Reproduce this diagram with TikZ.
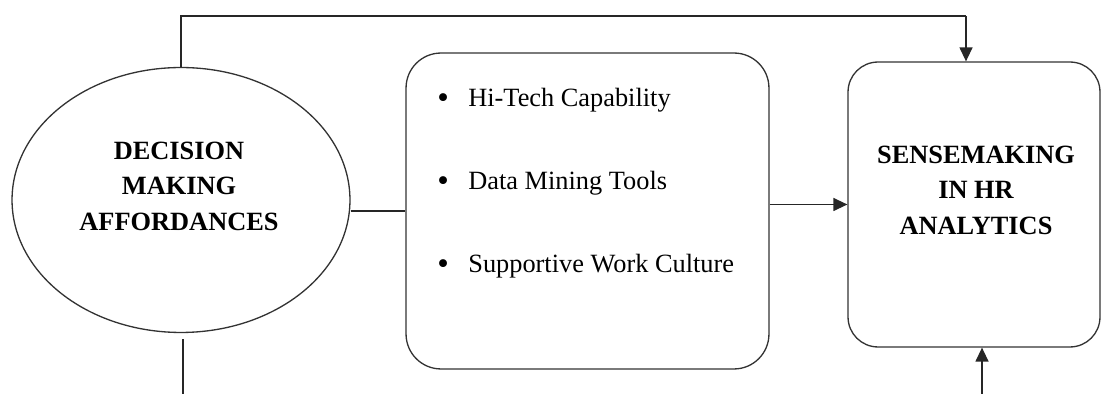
\documentclass[tikz,border=0pt]{standalone}
\usepackage{fontspec}
\setmainfont{Liberation Serif}
\usetikzlibrary{arrows.meta,shapes.geometric}

\tikzset{
  link/.style={line width=0.75pt, draw=black!85},
  arrowlink/.style={link, -{Triangle[length=0.28cm,width=0.26cm]}},
  shapeline/.style={line width=0.75pt, draw=black!80},
  headtext/.style={align=center, font=\fontsize{15}{20.2}\selectfont\bfseries, inner sep=0pt},
  itemtext/.style={anchor=base west, font=\fontsize{15}{18}\selectfont, inner sep=0pt},
}

\newcommand{\bulletitem}[1]{\makebox[0.62cm][l]{\raisebox{-0.6pt}{\scalebox{1.25}{\textbullet}}}#1}

\begin{document}
\begin{tikzpicture}[x=0.02cm, y=-0.02cm]
  \useasboundingbox (0,0) rectangle (1102,394);

  % decision making affordances
  \node[ellipse, shapeline, minimum width=6.76cm, minimum height=5.3cm] (dma) at (181,200) {};
  \node[headtext] (dmatext) at (179,186) {DECISION\\MAKING\\AFFORDANCES};

  % enabling factors
  \node[rectangle, rounded corners=0.7cm, shapeline, minimum width=7.26cm, minimum height=6.32cm] (factors) at (587.5,211) {};
  \node[itemtext] (f1) at (437,107) {\bulletitem{Hi-Tech Capability}};
  \node[itemtext] (f2) at (437,190) {\bulletitem{Data Mining Tools}};
  \node[itemtext] (f3) at (437,273) {\bulletitem{Supportive Work Culture}};

  % sensemaking
  \node[rectangle, rounded corners=0.6cm, shapeline, minimum width=5.04cm, minimum height=5.7cm] (sense) at (974,204.5) {};
  \node[headtext] (sensetext) at (976,190) {SENSEMAKING\\IN HR\\ANALYTICS};

  % connectors
  \coordinate (topbend) at (966,16);
  \coordinate (leftfoot) at (183,394);
  \coordinate (rightfoot) at (982,394);

  \draw[link] (dma.north) |- (topbend);
  \draw[arrowlink] (topbend) -- (topbend |- sense.north);
  \draw[link] (dma.east |- factors.west) -- (factors.west);
  \draw[arrowlink] (factors.east |- sense.west) -- (sense.west);
  \draw[link] ([yshift=-0.12cm]dma.south -| leftfoot) -- (leftfoot);
  \draw[arrowlink] (rightfoot) -- (rightfoot |- sense.south);
\end{tikzpicture}
\end{document}
